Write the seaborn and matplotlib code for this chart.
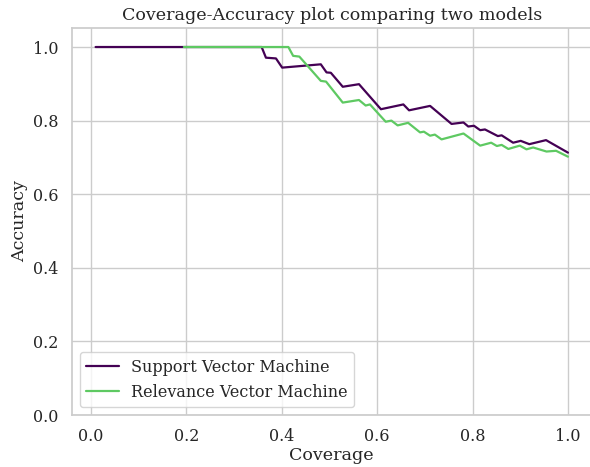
import matplotlib
matplotlib.use("Agg")
import matplotlib.pyplot as plt
import seaborn as sns
import pandas as pd

svm_cov = [0.01, 0.358, 0.367, 0.388, 0.401, 0.482, 0.494, 0.503, 0.528, 0.562,
           0.608, 0.655, 0.667, 0.711, 0.756, 0.781, 0.791, 0.803, 0.816, 0.826,
           0.853, 0.861, 0.885, 0.901, 0.919, 0.954, 1.0]
svm_acc = [1.0, 1.0, 0.971, 0.969, 0.944, 0.953, 0.931, 0.930, 0.892, 0.899,
           0.831, 0.844, 0.828, 0.840, 0.791, 0.795, 0.784, 0.786, 0.774, 0.776,
           0.758, 0.760, 0.740, 0.745, 0.736, 0.747, 0.713]

rvm_cov = [0.195, 0.414, 0.424, 0.437, 0.482, 0.493, 0.528, 0.562, 0.576, 0.585,
           0.618, 0.630, 0.643, 0.665, 0.690, 0.698, 0.711, 0.721, 0.735, 0.781,
           0.816, 0.839, 0.851, 0.861, 0.875, 0.899, 0.913, 0.927, 0.955, 0.975, 1.0]
rvm_acc = [1.0, 1.0, 0.976, 0.974, 0.908, 0.906, 0.849, 0.856, 0.841, 0.844,
           0.797, 0.800, 0.787, 0.794, 0.768, 0.770, 0.759, 0.762, 0.749, 0.765,
           0.732, 0.740, 0.731, 0.734, 0.723, 0.732, 0.722, 0.727, 0.716, 0.718, 0.702]

labels = ["Support Vector Machine", "Relevance Vector Machine"]
colors = ["#440154", "#5ec962"]

sns.set_theme(style="whitegrid", font_scale=1.05)
plt.rcParams["font.family"] = ["DejaVu Serif"]

df = pd.concat([
    pd.DataFrame({"Coverage": svm_cov, "Accuracy": svm_acc, "Model": labels[0]}),
    pd.DataFrame({"Coverage": rvm_cov, "Accuracy": rvm_acc, "Model": labels[1]}),
])

fig = plt.figure(figsize=(5.9, 4.67), dpi=100)
ax = fig.add_axes([0.122, 0.1113, 0.8807, 0.829])
sns.lineplot(data=df, x="Coverage", y="Accuracy", hue="Model", palette=colors,
             ax=ax, linewidth=1.6, estimator=None, sort=False)
ax.set_ylim(0, 1.052)
ax.set_title("Coverage-Accuracy plot comparing two models")
ax.set_xlabel("Coverage", labelpad=1.5)
ax.legend(loc="lower left", title=None)
fig.savefig("out.png", dpi=100)
